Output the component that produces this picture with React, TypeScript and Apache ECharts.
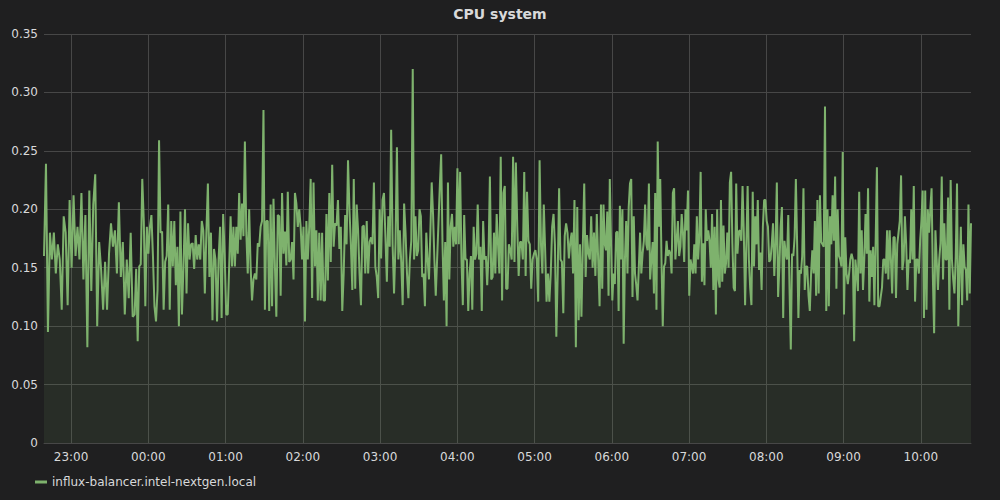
import React, { useEffect, useRef } from "react";
import * as echarts from "echarts";

// CPU system values, grouped by stretch of time
const seg1 = [0.16, 0.239, 0.095, 0.18, 0.157, 0.18, 0.145, 0.17, 0.157, 0.114, 0.194, 0.18, 0.118, 0.208, 0.15, 0.212, 0.16, 0.185, 0.157, 0.214, 0.14, 0.195, 0.082, 0.216, 0.13, 0.204, 0.23, 0.1, 0.172, 0.148, 0.114, 0.155, 0.114, 0.162, 0.188, 0.168, 0.182, 0.145, 0.206, 0.142, 0.172, 0.11, 0.157, 0.124, 0.18, 0.108];
const seg2 = [0.11, 0.149, 0.087, 0.151, 0.153, 0.226, 0.19, 0.117, 0.185, 0.162, 0.185, 0.195, 0.16, 0.117, 0.104, 0.131, 0.259, 0.18, 0.181, 0.114, 0.155, 0.16, 0.204, 0.114, 0.19, 0.151, 0.19, 0.135, 0.168, 0.1, 0.198, 0.11, 0.151, 0.2, 0.128, 0.188, 0.157, 0.17, 0.171, 0.149, 0.178, 0.157, 0.17, 0.157, 0.19, 0.182, 0.128, 0.18, 0.222, 0.142, 0.18, 0.105, 0.166, 0.157, 0.104, 0.157, 0.185, 0.107, 0.196, 0.162, 0.11];
const seg3 = [0.11, 0.151, 0.194, 0.151, 0.185, 0.151, 0.185, 0.162, 0.214, 0.174, 0.205, 0.177, 0.258, 0.18, 0.145, 0.2, 0.151, 0.122, 0.14, 0.145, 0.14, 0.171, 0.168, 0.185, 0.19, 0.285, 0.114, 0.19, 0.19, 0.113, 0.204, 0.117, 0.209, 0.151, 0.108, 0.195, 0.194, 0.126, 0.214, 0.162, 0.181, 0.152, 0.215, 0.155, 0.157, 0.172, 0.14, 0.214, 0.205, 0.185, 0.2, 0.185, 0.157, 0.185, 0.104, 0.19, 0.157, 0.185, 0.226, 0.124, 0.223, 0.151, 0.182, 0.122, 0.18];
const seg4 = [0.122, 0.18, 0.122, 0.122, 0.196, 0.139, 0.214, 0.155, 0.238, 0.168, 0.188, 0.186, 0.208, 0.166, 0.185, 0.113, 0.145, 0.195, 0.17, 0.242, 0.2, 0.17, 0.131, 0.226, 0.132, 0.204, 0.182, 0.145, 0.118, 0.185, 0.186, 0.145, 0.19, 0.145, 0.172, 0.176, 0.17, 0.223, 0.151, 0.142, 0.124, 0.2, 0.158, 0.208, 0.214, 0.177, 0.138, 0.194, 0.168, 0.268, 0.17, 0.128, 0.17, 0.253, 0.157, 0.182, 0.155, 0.118, 0.205, 0.18, 0.145, 0.124, 0.157, 0.173];
const seg5 = [0.32, 0.157, 0.194, 0.16, 0.165, 0.2, 0.194, 0.142, 0.145, 0.117, 0.18, 0.157, 0.14, 0.18, 0.223, 0.196, 0.157, 0.126, 0.157, 0.188, 0.22, 0.247, 0.17, 0.122, 0.172, 0.1, 0.223, 0.14, 0.185, 0.196, 0.168, 0.185, 0.17, 0.235, 0.17, 0.232, 0.157, 0.118, 0.195, 0.157, 0.157, 0.113, 0.145, 0.16, 0.114, 0.185, 0.157, 0.162, 0.204, 0.157, 0.168, 0.113, 0.19, 0.157, 0.16, 0.135, 0.162, 0.228, 0.14, 0.142, 0.18, 0.145, 0.196, 0.17, 0.145, 0.245, 0.122, 0.214, 0.22, 0.132];
const seg6 = [0.132, 0.17, 0.165, 0.157, 0.245, 0.155, 0.24, 0.185, 0.143, 0.172, 0.172, 0.157, 0.232, 0.143, 0.215, 0.173, 0.17, 0.132, 0.157, 0.162, 0.165, 0.157, 0.121, 0.242, 0.17, 0.145, 0.204, 0.165, 0.121, 0.145, 0.121, 0.145, 0.185, 0.196, 0.17, 0.091, 0.145, 0.218, 0.157, 0.155, 0.111, 0.177, 0.188, 0.18, 0.158, 0.172, 0.18, 0.145, 0.208, 0.082, 0.202, 0.105, 0.17, 0.108, 0.17, 0.222, 0.142, 0.178, 0.162, 0.157, 0.194, 0.15, 0.18, 0.143, 0.196, 0.157, 0.117];
const seg7 = [0.204, 0.132, 0.204, 0.17, 0.165, 0.198, 0.126, 0.226, 0.17, 0.122, 0.145, 0.136, 0.18, 0.181, 0.113, 0.203, 0.157, 0.2, 0.085, 0.157, 0.19, 0.145, 0.202, 0.222, 0.226, 0.125, 0.194, 0.145, 0.135, 0.122, 0.15, 0.18, 0.145, 0.162, 0.173, 0.204, 0.17, 0.165, 0.222, 0.14, 0.157, 0.172, 0.128, 0.214, 0.114, 0.258, 0.185, 0.226, 0.157, 0.1, 0.151, 0.154, 0.173, 0.16, 0.165, 0.162, 0.145, 0.214, 0.218, 0.157, 0.173, 0.19, 0.16, 0.168, 0.196, 0.18, 0.155, 0.2, 0.182, 0.216, 0.126, 0.157, 0.151];
const seg8 = [0.145, 0.17, 0.145, 0.194, 0.157, 0.178, 0.232, 0.138, 0.171, 0.135, 0.2, 0.173, 0.182, 0.173, 0.15, 0.196, 0.131, 0.185, 0.11, 0.2, 0.14, 0.133, 0.208, 0.138, 0.186, 0.145, 0.154, 0.18, 0.15, 0.223, 0.232, 0.171, 0.133, 0.13, 0.222, 0.162, 0.181, 0.182, 0.173, 0.22, 0.18, 0.118, 0.17, 0.22, 0.157, 0.133, 0.118, 0.215, 0.151, 0.194, 0.17, 0.208, 0.148, 0.163, 0.131, 0.185, 0.208, 0.208, 0.19, 0.185, 0.155, 0.157, 0.17, 0.188, 0.143, 0.171, 0.223, 0.125, 0.151, 0.185, 0.202, 0.107, 0.173];
const seg9 = [0.162, 0.157, 0.195, 0.132, 0.08, 0.162, 0.16, 0.176, 0.226, 0.17, 0.107, 0.148, 0.145, 0.16, 0.218, 0.131, 0.151, 0.151, 0.126, 0.113, 0.145, 0.165, 0.145, 0.19, 0.126, 0.208, 0.128, 0.212, 0.172, 0.17, 0.168, 0.288, 0.113, 0.2, 0.117, 0.194, 0.17, 0.212, 0.173, 0.228, 0.132, 0.2, 0.16, 0.157, 0.151, 0.249, 0.11, 0.176, 0.145, 0.136, 0.145, 0.157, 0.162, 0.157, 0.087, 0.157, 0.145, 0.13, 0.215, 0.145, 0.182, 0.131, 0.157, 0.196, 0.162, 0.218, 0.121, 0.165, 0.142, 0.168, 0.118, 0.173, 0.236, 0.117];
const seg10 = [0.117, 0.125, 0.133, 0.157, 0.157, 0.145, 0.182, 0.14, 0.182, 0.157, 0.128, 0.176, 0.176, 0.124, 0.17, 0.18, 0.19, 0.229, 0.148, 0.157, 0.194, 0.171, 0.131, 0.157, 0.154, 0.2, 0.157, 0.22, 0.121, 0.157, 0.157, 0.145, 0.173, 0.19, 0.216, 0.107, 0.216, 0.114, 0.2, 0.18, 0.2, 0.218, 0.142, 0.094, 0.182, 0.157, 0.131, 0.157, 0.171, 0.228, 0.14, 0.188, 0.157, 0.157, 0.21, 0.114, 0.225, 0.157, 0.14, 0.128, 0.16, 0.222, 0.1, 0.145, 0.185, 0.118, 0.17, 0.151, 0.148, 0.122, 0.204, 0.128, 0.188];

const segments = [seg1, seg2, seg3, seg4, seg5, seg6, seg7, seg8, seg9, seg10];
// minutes after 22:39 at which each stretch begins; the window is 12 hours
const segmentStartMin = [0, 70.4, 142.7, 214.9, 286.4, 360, 432.6, 504.1, 576.1, 648.9];
const windowMinutes = 720;

const yTicks = ["0", "0.05", "0.10", "0.15", "0.20", "0.25", "0.30", "0.35"];
const seriesName = "influx-balancer.intel-nextgen.local";
const titleText = "CPU system";

const pad = (n: number) => (n < 10 ? "0" + n : "" + n);

export default function App() {
  const ref = useRef<HTMLDivElement>(null);
  useEffect(() => {
    if (!ref.current) return;
    const chart = echarts.init(ref.current, undefined, { renderer: "svg" });
    const start = new Date(2024, 0, 1, 22, 39, 0).getTime();
    const end = start + windowMinutes * 60000;
    const data: [number, number][] = [];
    segments.forEach((seg, k) => {
      const from = segmentStartMin[k];
      const last = k === segments.length - 1;
      const to = last ? windowMinutes : segmentStartMin[k + 1];
      const denom = last ? seg.length - 1 : seg.length;
      seg.forEach((v, j) => {
        const m = from + (j * (to - from)) / denom;
        data.push([start + m * 60000, v]);
      });
    });
    const textColor = "#d8d9da";
    const gridColor = "#474747";
    const font = "DejaVu Sans";
    chart.setOption({
      animation: false,
      backgroundColor: "#1f1f20",
      title: {
        text: titleText,
        left: "center",
        top: 2,
        textStyle: { color: textColor, fontSize: 14, fontWeight: "bold", fontFamily: font },
      },
      legend: {
        left: 30,
        top: 471,
        icon: "rect",
        itemWidth: 12,
        itemHeight: 3,
        textStyle: { color: textColor, fontSize: 12, fontFamily: font },
        data: [seriesName],
      },
      grid: { left: 44, right: 29, top: 34, bottom: 57, containLabel: false },
      xAxis: {
        type: "time",
        min: start,
        max: end,
        minInterval: 3600000,
        maxInterval: 3600000,
        axisLine: { show: true, lineStyle: { color: gridColor, width: 1 } },
        axisTick: { show: false },
        axisLabel: {
          color: textColor,
          fontSize: 12,
          fontFamily: font,
          margin: 8,
          hideOverlap: false,
          formatter: (v: number) => {
            const d = new Date(v);
            if (d.getMinutes() !== 0) return "";
            return pad(d.getHours()) + ":" + pad(d.getMinutes());
          },
        },
        splitLine: {
          show: true,
          showMinLine: false,
          showMaxLine: false,
          lineStyle: { color: gridColor, width: 1 },
        },
      },
      yAxis: {
        type: "value",
        min: 0,
        max: 0.35,
        interval: 0.05,
        axisLine: { show: false },
        axisTick: { show: false },
        axisLabel: {
          color: textColor,
          fontSize: 12,
          fontFamily: font,
          margin: 6,
          formatter: (v: number) => yTicks[Math.round(v / 0.05)],
        },
        splitLine: { show: true, lineStyle: { color: gridColor, width: 1 } },
      },
      series: [
        {
          name: seriesName,
          type: "line",
          data,
          showSymbol: false,
          symbol: "none",
          color: "#7eb26d",
          lineStyle: { color: "#7eb26d", width: 2 },
          areaStyle: { color: "#7eb26d", opacity: 0.1 },
        },
      ],
    });
    return () => chart.dispose();
  }, []);
  return (
    <div
      ref={ref}
      style={{ position: "fixed", left: 0, top: 0, width: 1000, height: 500 }}
    />
  );
}
